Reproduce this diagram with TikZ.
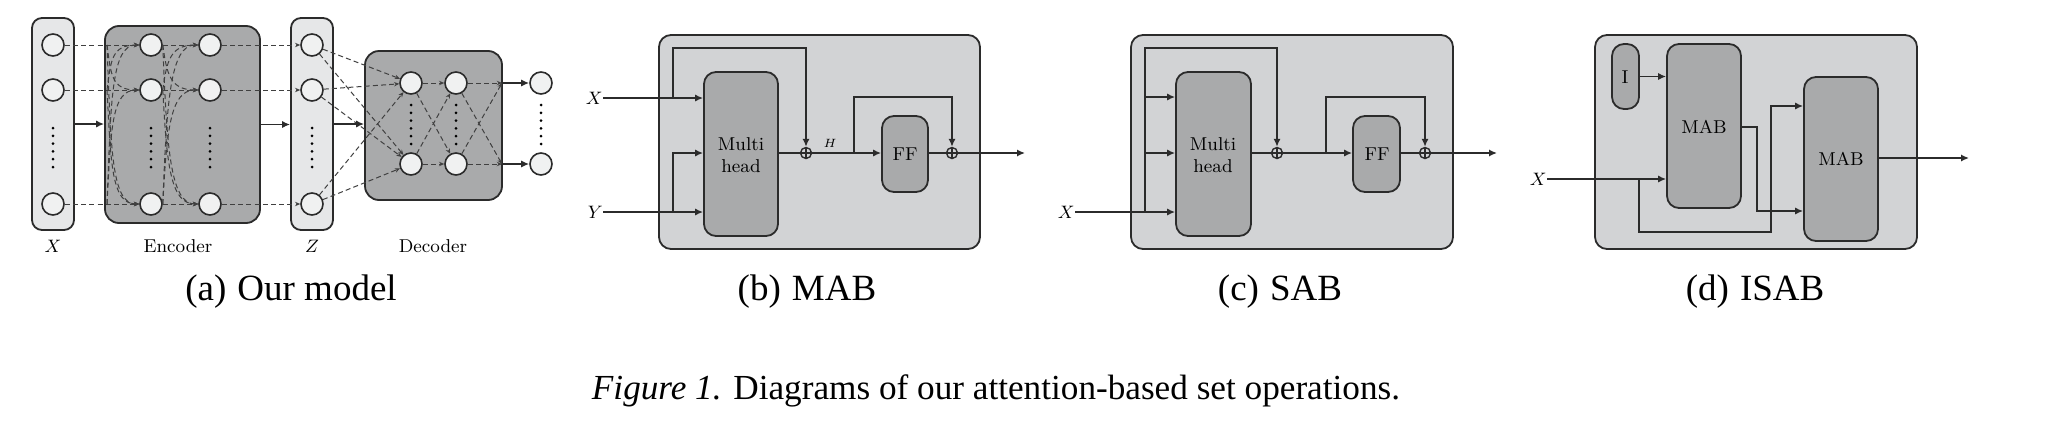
\documentclass[tikz,border=0pt]{standalone}
\usepackage{fontspec}
\newfontfamily\capfont{Liberation Serif}
\usetikzlibrary{arrows.meta,fit,calc}
\definecolor{lightbox}{HTML}{E6E7E8}
\definecolor{midbox}{HTML}{D2D3D5}
\definecolor{darkbox}{HTML}{A9AAAB}
\definecolor{circfill}{HTML}{F0F1F1}
\definecolor{edge}{HTML}{2B2B2B}
\definecolor{dashc}{HTML}{404040}
\begin{document}
\begin{tikzpicture}[x=0.5pt,y=-0.5pt,
  lbl/.style={font=\fontsize{9.3}{11}\selectfont, inner sep=0},
  captxt/.style={font=\capfont\fontsize{18.5}{22}\selectfont, inner sep=0},
  circ/.style={circle, draw=edge, line width=0.8pt, fill=circfill, minimum size=11pt, inner sep=0},
  lbox/.style={draw=edge, line width=0.9pt, fill=lightbox, rounded corners=5pt, inner sep=0},
  dbox/.style={draw=edge, line width=0.9pt, fill=darkbox, rounded corners=7pt, inner sep=0},
  obox/.style={draw=edge, line width=0.9pt, fill=midbox, rounded corners=6pt, inner sep=0},
  ibox/.style={draw=edge, line width=0.9pt, fill=darkbox, rounded corners=6pt, inner sep=0},
  arr/.style={draw=edge, line width=0.9pt, -{Latex[length=4pt,width=3.6pt]}},
  ln/.style={draw=edge, line width=0.9pt},
  dsh/.style={draw=dashc, line width=0.5pt, dash pattern=on 2.5pt off 1.6pt, -{Stealth[length=2.6pt,width=2.2pt]}},
  oplus/.style={circle, draw=edge, line width=0.7pt, minimum size=5.5pt, inner sep=0,
    path picture={\draw[edge, line width=0.6pt] (path picture bounding box.north) -- (path picture bounding box.south) (path picture bounding box.west) -- (path picture bounding box.east);}},
]
\path[use as bounding box, fill=white] (0,0) rectangle (2048,429);

% ---------------- (a) Our model ----------------
\node[lbox, fit={(32,18) (74,230)}] (xbox) {};
\node[lbox, fit={(291,18) (333,230)}] (zbox) {};
\node[dbox, fit={(105,26) (260,223)}] (enc) {};
\node[dbox, fit={(365,51) (502,200)}] (dec) {};

\foreach \i/\y in {1/45,2/90,3/204}{
  \node[circ] (x\i) at (53,\y) {};
  \node[circ] (ea\i) at (151,\y) {};
  \node[circ] (eb\i) at (210,\y) {};
  \node[circ] (z\i) at (312,\y) {};
  \coordinate (ein\i) at (107,\y);
}
\foreach \i/\y in {1/83,2/164}{
  \node[circ] (da\i) at (411,\y) {};
  \node[circ] (db\i) at (456,\y) {};
  \node[circ] (o\i) at (541,\y) {};
  \coordinate (dout\i) at (502,\y);
}
% vertical dots
\foreach \xx in {53,151,210,312}{
  \foreach \k in {0,...,5} \fill[black] (\xx,128+\k*7.8) circle (0.75pt);
}
\foreach \xx in {411,456,541}{
  \foreach \k in {0,...,5} \fill[black] (\xx,105+\k*7.8) circle (0.75pt);
}

% dashed connections
\foreach \i in {1,2,3}{
  \draw[dsh] (x\i) -- (ea\i);
  \draw[dsh] (ea\i) -- (eb\i);
  \draw[dsh] (eb\i) -- (z\i);
  \foreach \j in {1,2}{
    \draw[dsh] (z\i) -- (da\j);
  }
}
\foreach \i/\yi in {1/45,2/90,3/204}{
  \foreach \j/\yj in {1/45,2/90,3/204}{
    \ifnum\i=\j\relax\else
      \pgfmathsetmacro\dy{0.65*(\yj-\yi)}
      \draw[dsh] (ein\i) .. controls +(4,\dy) and +(-28,0) .. (ea\j.west);
      \draw[dsh] (ea\i.east) .. controls +(4,\dy) and +(-28,0) .. (eb\j.west);
    \fi
  }
}
\foreach \i in {1,2}{
  \foreach \j in {1,2}{
    \draw[dsh] (da\i) -- (db\j);
    \draw[dsh] (db\i) -- (dout\j);
  }
  \draw[arr] (dout\i) -- (o\i);
}

% solid arrows between blocks
\draw[arr] (xbox.east) -- (xbox.east -| enc.west);
\draw[arr] (enc.east) -- (enc.east -| zbox.west);
\draw[arr] (zbox.east) -- (zbox.east -| dec.west);

\node[lbl] (lx) at (53,246) {$X$};
\node[lbl] (lenc) at (178,246) {Encoder};
\node[lbl] (lz) at (312,246) {$Z$};
\node[lbl] (ldec) at (433,246) {Decoder};

% ---------------- (b) MAB ----------------
\node[obox, fit={(659,35) (980,249)}] (bout) {};
\node[ibox, fit={(704,72) (778,236)}] (bmh) {};
\node[lbl, align=center] (bmht) at (741,155) {Multi\\head};
\node[ibox, fit={(882,116) (928,192)}] (bff) {};
\node[lbl] (bfft) at (905,154) {FF};
\node[oplus] (bp1) at (806,153) {};
\node[oplus] (bp2) at (952,153) {};
\node[lbl, anchor=east] (bX) at (603,98) {$X$};
\node[lbl, anchor=east] (bY) at (603,212) {$Y$};
\coordinate (bxb) at (673,98);
\coordinate (bxt) at (673,48);
\coordinate (byb) at (673,212);
\coordinate (bfb) at (854,153);
\coordinate (bft) at (854,97);
\coordinate (bend) at (1025,153);
\draw[arr] (bX) -- (bX -| bmh.west);
\draw[arr] (bY) -- (bY -| bmh.west);
\draw[arr] (bxb) -- (bxt) -| (bp1);
\draw[arr] (byb) |- (bmh.west |- bp1);
\draw[ln] (bmh.east |- bp1) -- (bp1);
\draw[arr] (bp1) -- (bff.west |- bp1);
\draw[arr] (bfb) -- (bft) -| (bp2);
\draw[ln] (bff.east |- bp2) -- (bp2);
\draw[arr] (bp2) -- (bend);
\node[lbl, font=\fontsize{6.5}{8}\selectfont] (bH) at (830,143) {$H$};

% ---------------- (c) SAB ----------------
\node[obox, fit={(1131,35) (1453,249)}] (cout) {};
\node[ibox, fit={(1176,72) (1251,236)}] (cmh) {};
\node[lbl, align=center] (cmht) at (1213,155) {Multi\\head};
\node[ibox, fit={(1353,116) (1400,192)}] (cff) {};
\node[lbl] (cfft) at (1377,154) {FF};
\node[oplus] (cp1) at (1277,153) {};
\node[oplus] (cp2) at (1425,153) {};
\node[lbl, anchor=east] (cX) at (1075,212) {$X$};
\coordinate (cxb) at (1145,212);
\coordinate (cxt) at (1145,48);
\coordinate (cx1) at (1145,97);
\coordinate (cx2) at (1145,153);
\coordinate (cfb) at (1326,153);
\coordinate (cft) at (1326,97);
\coordinate (cend) at (1497,153);
\draw[arr] (cX) -- (cX -| cmh.west);
\draw[arr] (cxb) -- (cxt) -| (cp1);
\draw[arr] (cx1) -- (cx1 -| cmh.west);
\draw[arr] (cx2) -- (cx2 -| cmh.west);
\draw[ln] (cmh.east |- cp1) -- (cp1);
\draw[arr] (cp1) -- (cff.west |- cp1);
\draw[arr] (cfb) -- (cft) -| (cp2);
\draw[ln] (cff.east |- cp2) -- (cp2);
\draw[arr] (cp2) -- (cend);

% ---------------- (d) ISAB ----------------
\node[obox, fit={(1595,35) (1917,249)}] (dout) {};
\node[ibox, fit={(1612,44) (1639,109)}] (dI) {};
\node[lbl] (dIt) at (1625,77) {I};
\node[ibox, fit={(1667,44) (1741,208)}] (dm1) {};
\node[lbl] (dm1t) at (1704,127) {MAB};
\node[ibox, fit={(1804,77) (1878,241)}] (dm2) {};
\node[lbl] (dm2t) at (1841,159) {MAB};
\node[lbl, anchor=east] (dX) at (1547,179) {$X$};
\coordinate (dxb) at (1639,179);
\coordinate (dxl) at (1639,232);
\coordinate (dxr) at (1771,232);
\coordinate (dxu) at (1771,106);
\coordinate (dmo) at (1757,127);
\coordinate (dmd) at (1757,211);
\coordinate (dend) at (1969,158);
\draw[arr] (dX) -- (dX -| dm1.west);
\draw[arr] (dI.east) -- (dI.east -| dm1.west);
\draw[arr] (dxb) -- (dxl) -- (dxr) -- (dxu) -- (dxu -| dm2.west);
\draw[arr] (dm1.east |- dmo) -- (dmo) -- (dmd) -- (dmd -| dm2.west);
\draw[arr] (dm2.east |- dend) -- (dend);

% ---------------- captions ----------------
\node[captxt] (capa) at (291,292) {(a)\hspace{0.3em}Our model};
\node[captxt] (capb) at (807,292) {(b)\hspace{0.3em}MAB};
\node[captxt] (capc) at (1280,292) {(c)\hspace{0.3em}SAB};
\node[captxt] (capd) at (1755,292) {(d)\hspace{0.3em}ISAB};
\node[captxt, font=\capfont\fontsize{17.6}{21}\selectfont] (capmain) at (996,391) {\textit{Figure 1.} Diagrams of our attention-based set operations.};
\end{tikzpicture}
\end{document}
